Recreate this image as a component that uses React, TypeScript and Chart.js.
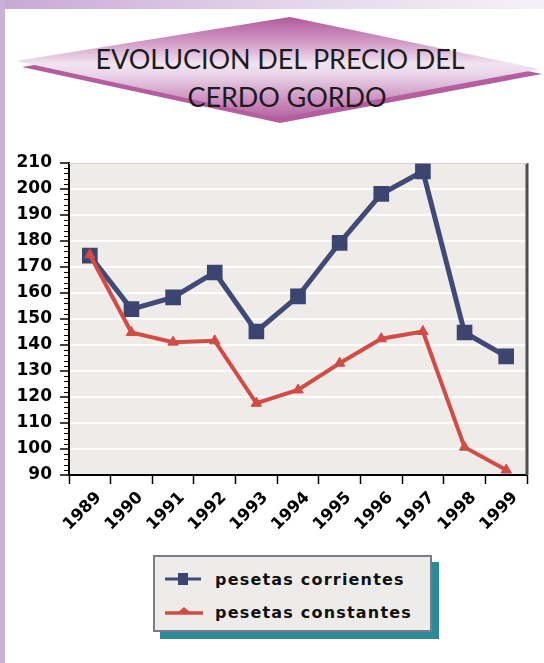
import React, { useEffect, useRef } from "react";
import { Chart, registerables } from "chart.js";

Chart.register(...registerables);

const years = ["1989", "1990", "1991", "1992", "1993", "1994", "1995", "1996", "1997", "1998", "1999"];
const corrientes = [174.4, 153.8, 158.3, 167.9, 145.2, 158.7, 179.3, 198.1, 206.8, 144.8, 135.6];
const constantes = [174.7, 144.8, 141.1, 141.6, 117.6, 122.7, 133.0, 142.4, 145.2, 100.7, 91.9];
const yMin = 90;
const yMax = 210;
const yStep = 10;
const yMinorStep = 2;
const titleLines = ["EVOLUCION DEL PRECIO DEL", "CERDO GORDO"];
const seriesNames = ["pesetas corrientes", "pesetas constantes"];

const BLUE = "#3f4a78";
const RED = "#d24b45";

const plotDecor = {
  id: "plotDecor",
  beforeDraw(chart: any) {
    const { ctx, chartArea: a } = chart;
    ctx.save();
    ctx.fillStyle = "#efebe9";
    ctx.fillRect(a.left, a.top, a.right - a.left, a.bottom - a.top);
    ctx.restore();
  },
  beforeDatasetsDraw(chart: any) {
    const { ctx, chartArea: a } = chart;
    ctx.save();
    ctx.strokeStyle = "#4d4d4d";
    ctx.lineWidth = 3;
    ctx.beginPath();
    ctx.moveTo(a.right, a.top);
    ctx.lineTo(a.right, a.bottom);
    ctx.stroke();
    ctx.strokeStyle = "#d8d4d4";
    ctx.lineWidth = 1;
    ctx.beginPath();
    ctx.moveTo(a.left, a.top + 0.5);
    ctx.lineTo(a.right, a.top + 0.5);
    ctx.stroke();
    // minor ticks on y axis
    const ys = chart.scales.y;
    ctx.strokeStyle = "#000";
    ctx.lineWidth = 1;
    ctx.beginPath();
    for (let v = yMin; v <= yMax; v += yMinorStep) {
      if (v % yStep === 0) continue;
      const py = Math.round(ys.getPixelForValue(v)) + 0.5;
      ctx.moveTo(a.left - 5, py);
      ctx.lineTo(a.left, py);
    }
    ctx.stroke();
    ctx.restore();
  },
};

function ChartCanvas() {
  const ref = useRef<HTMLCanvasElement | null>(null);
  useEffect(() => {
    if (!ref.current) return;
    const chart = new Chart(ref.current, {
      type: "line",
      data: {
        labels: years,
        datasets: [
          {
            label: seriesNames[0],
            data: corrientes,
            borderColor: BLUE,
            backgroundColor: "#3b4570",
            borderWidth: 5,
            pointStyle: "rect",
            pointRadius: 10,
            pointBackgroundColor: "#3b4570",
            pointBorderColor: "#3b4570",
            pointBorderWidth: 1.5,
            tension: 0,
            order: 2,
          },
          {
            label: seriesNames[1],
            data: constantes,
            borderColor: RED,
            backgroundColor: RED,
            borderWidth: 4,
            pointStyle: "triangle",
            pointRadius: 6,
            pointBackgroundColor: RED,
            pointBorderColor: RED,
            pointBorderWidth: 1,
            tension: 0,
            order: 1,
          },
        ],
      },
      options: {
        animation: false,
        responsive: false,
        events: [],
        layout: { padding: { left: 0, right: 17, top: 23, bottom: 0 } },
        plugins: {
          legend: { display: false },
          tooltip: { enabled: false },
          title: { display: false },
        },
        scales: {
          x: {
            type: "category",
            offset: true,
            afterFit: (s: any) => {
              s.height = 65;
            },
            grid: {
              offset: true,
              drawOnChartArea: false,
              drawTicks: true,
              tickLength: 9,
              tickColor: "#000",
              tickWidth: 1.5,
            },
            border: { display: true, color: "#000", width: 2 },
            ticks: {
              autoSkip: false,
              maxRotation: 45,
              minRotation: 45,
              labelOffset: 9,
              padding: 4,
              color: "#000",
              font: { family: "DejaVu Sans", weight: "bold", size: 16.5 },
            },
          },
          y: {
            min: yMin,
            max: yMax,
            afterFit: (s: any) => {
              s.width = 69;
            },
            grid: {
              color: "#ffffff",
              lineWidth: 2,
              drawTicks: true,
              tickLength: 9,
              tickColor: "#000",
              tickWidth: 1.5,
            },
            border: { display: true, color: "#000", width: 2 },
            ticks: {
              stepSize: yStep,
              autoSkip: false,
              padding: 8,
              color: "#000",
              font: { family: "DejaVu Sans", weight: "bold", size: 17 },
            },
          },
        },
      },
      plugins: [plotDecor],
    } as any);
    return () => chart.destroy();
  }, []);
  return <canvas ref={ref} width={544} height={400} style={{ width: 544, height: 400, display: "block" }} />;
}

function LegendMarker({ kind }: { kind: number }) {
  if (kind === 0) {
    return (
      <svg width={40} height={16} style={{ display: "block" }}>
        <line x1={0} y1={8} x2={36} y2={8} stroke={BLUE} strokeWidth={3} />
        <rect x={13} y={2} width={10} height={12} fill="#3b4570" />
      </svg>
    );
  }
  return (
    <svg width={40} height={16} style={{ display: "block" }}>
      <line x1={0} y1={9} x2={38} y2={9} stroke={RED} strokeWidth={3.5} />
      <polygon points="12,9 19,3 26,9" fill={RED} />
    </svg>
  );
}

const titleStyle: React.CSSProperties = {
  position: "absolute",
  width: 560,
  textAlign: "center",
  fontFamily: "Lato, 'Open Sans', sans-serif",
  fontSize: 27,
  lineHeight: "27px",
  letterSpacing: -0.1,
  color: "#1c1c1c",
  whiteSpace: "nowrap",
};

export default function App() {
  return (
    <div
      style={{
        position: "absolute",
        left: 0,
        top: 0,
        width: 544,
        height: 663,
        overflow: "hidden",
        background: "#ffffff",
      }}
    >
      {/* top strip */}
      <div
        style={{
          position: "absolute",
          left: 0,
          top: 0,
          width: 544,
          height: 9,
          background: "linear-gradient(to right, #c7a8d5, #e3d3e9 50%, #f6f1f8)",
        }}
      />
      {/* left strip */}
      <div style={{ position: "absolute", left: 0, top: 0, width: 5, height: 663, background: "#cbb0d8" }} />

      {/* title diamond */}
      <svg width={544} height={130} style={{ position: "absolute", left: 0, top: 0 }}>
        <defs>
          <linearGradient id="dg" x1="0" y1="17" x2="0" y2="121" gradientUnits="userSpaceOnUse">
            <stop offset="0" stopColor="#b05a9c" />
            <stop offset="0.25" stopColor="#d39cc8" />
            <stop offset="0.45" stopColor="#f1e4f0" />
            <stop offset="0.55" stopColor="#ead6e8" />
            <stop offset="0.8" stopColor="#cc8fc0" />
            <stop offset="1" stopColor="#b15d9e" />
          </linearGradient>
        </defs>
        <polygon points="22,67 292,22 542,74 280,123" fill="#b45ea0" />
        <polygon points="16,61 290,17 540,69 278,118" fill="url(#dg)" />
      </svg>
      <div style={{ ...titleStyle, left: 0, top: 45 }}>{titleLines[0]}</div>
      <div style={{ ...titleStyle, left: 7, top: 83 }}>{titleLines[1]}</div>

      {/* chart */}
      <div style={{ position: "absolute", left: 0, top: 140, width: 544, height: 400 }}>
        <ChartCanvas />
      </div>

      {/* legend */}
      <div
        style={{
          position: "absolute",
          left: 153,
          top: 555,
          width: 279,
          height: 77,
          boxSizing: "border-box",
          border: "2px solid #7b7b8c",
          background: "#eeecea",
          boxShadow: "7px 7px 0 #2b8a97",
        }}
      >
        {[0, 1].map((i) => (
          <div
            key={i}
            style={{
              position: "absolute",
              left: 10,
              top: i === 0 ? 12 : 45,
              height: 20,
              display: "flex",
              alignItems: "center",
              whiteSpace: "nowrap",
            }}
          >
            <LegendMarker kind={i} />
            <span
              style={{
                marginLeft: 10,
                fontFamily: "'DejaVu Sans', sans-serif",
                fontWeight: "bold",
                fontSize: 16,
                letterSpacing: 1.2,
                color: "#111",
              }}
            >
              {seriesNames[i]}
            </span>
          </div>
        ))}
      </div>
    </div>
  );
}
